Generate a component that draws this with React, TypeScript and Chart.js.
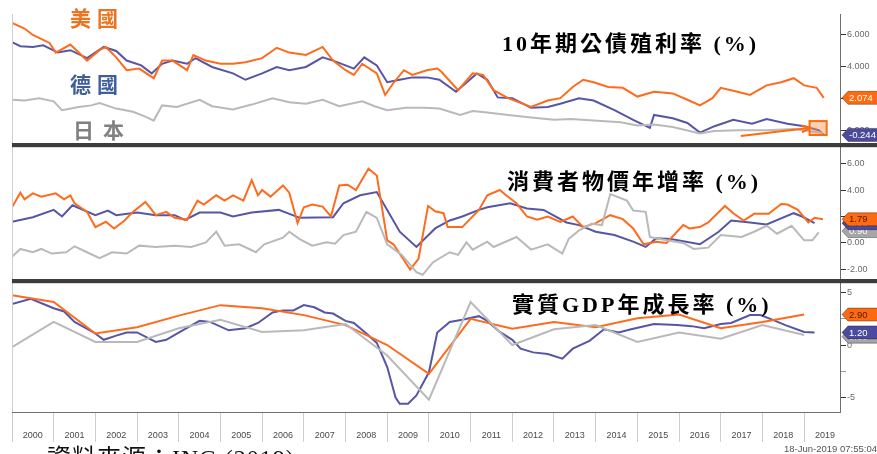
import React, { useEffect, useRef } from 'react';
import { Chart, registerables } from 'chart.js';

Chart.register(...registerables);

// ---------- tick labels ----------
const yearLabels = ['2000','2001','2002','2003','2004','2005','2006','2007','2008','2009','2010','2011','2012','2013','2014','2015','2016','2017','2018','2019'];

// ---------- Panel 1: 10-year government bond yield (%) ----------
const usYieldX = [2000.0,2000.3,2000.5,2000.9,2001.05,2001.4,2001.8,2002.1,2002.25,2002.5,2002.75,2003.05,2003.4,2003.6,2003.85,2004.2,2004.35,2004.65,2005.0,2005.3,2005.6,2006.0,2006.35,2006.65,2007.05,2007.45,2007.7,2008.0,2008.2,2008.4,2008.75,2008.95,2009.15,2009.4,2009.6,2009.95,2010.2,2010.3,2010.7,2011.05,2011.3,2011.55,2011.9,2012.45,2012.85,2013.15,2013.45,2013.7,2013.95,2014.3,2014.65,2015.0,2015.4,2015.85,2016.2,2016.5,2016.8,2017.0,2017.4,2017.7,2018.1,2018.45,2018.75,2019.0,2019.3,2019.47];
const usYieldY = [6.75,6.4,6.0,5.5,4.9,5.4,4.4,5.05,5.25,4.6,3.8,3.9,3.3,4.4,4.4,3.8,4.75,4.4,4.2,4.2,4.3,4.55,5.2,4.9,4.75,5.25,4.4,3.8,3.5,4.2,3.6,2.25,3.0,3.8,3.5,3.8,3.9,3.7,2.55,3.6,3.5,2.55,2.05,1.5,1.9,2.05,2.75,3.2,3.05,2.75,2.7,2.15,2.45,2.35,1.95,1.6,2.05,2.7,2.45,2.25,2.85,3.05,3.3,2.85,2.7,2.07];

const deYieldX = [2000.0,2000.2,2000.5,2000.75,2001.1,2001.4,2001.8,2002.2,2002.5,2002.75,2003.1,2003.35,2003.6,2003.85,2004.2,2004.4,2004.8,2005.3,2005.6,2006.0,2006.35,2006.65,2007.05,2007.45,2007.7,2008.0,2008.2,2008.45,2008.75,2009.0,2009.3,2009.6,2009.95,2010.25,2010.65,2011.15,2011.4,2011.65,2012.0,2012.45,2012.85,2013.15,2013.6,2013.95,2014.45,2014.9,2015.3,2015.4,2015.85,2016.2,2016.5,2016.85,2017.3,2017.75,2018.1,2018.6,2019.0,2019.35,2019.47];
const deYieldY = [5.55,5.3,5.25,5.35,4.9,5.05,4.55,5.25,5.0,4.4,4.1,3.6,4.2,4.4,4.2,4.55,4.0,3.6,3.2,3.6,4.0,3.8,4.0,4.6,4.4,4.1,3.9,4.6,4.1,3.05,3.2,3.35,3.35,3.2,2.45,3.6,3.2,2.1,2.05,1.45,1.5,1.7,2.05,1.9,1.3,0.7,0.2,1.0,0.8,0.5,-0.1,0.3,0.7,0.45,0.75,0.45,0.3,0.05,-0.24];

const jpYieldX = [2000.0,2000.3,2000.65,2001.0,2001.2,2001.6,2001.9,2002.1,2002.5,2002.9,2003.2,2003.4,2003.6,2003.95,2004.5,2004.8,2005.3,2005.75,2006.25,2006.65,2007.05,2007.45,2007.85,2008.4,2008.7,2009.0,2009.45,2009.9,2010.25,2010.75,2011.05,2011.4,2011.9,2012.45,2013.0,2013.4,2013.95,2014.6,2015.0,2015.4,2015.85,2016.5,2016.85,2017.4,2018.1,2018.75,2019.15,2019.45];
const jpYieldY = [1.95,1.9,2.05,1.85,1.3,1.5,1.6,1.75,1.4,1.2,0.9,0.65,1.6,1.5,1.95,1.55,1.35,1.65,2.05,1.8,1.7,1.95,1.55,1.85,1.55,1.3,1.45,1.45,1.4,1.0,1.25,1.15,1.0,0.85,0.7,0.75,0.65,0.55,0.35,0.4,0.25,-0.15,0.0,0.05,0.05,0.12,-0.02,-0.12];

// ---------- Panel 2: CPI YoY (%) ----------
const usCpiX = [2000.0,2000.2,2000.3,2000.5,2000.7,2001.05,2001.25,2001.4,2001.5,2001.8,2002.0,2002.25,2002.45,2002.7,2002.9,2003.2,2003.45,2003.7,2003.9,2004.2,2004.45,2004.6,2004.9,2005.1,2005.3,2005.55,2005.75,2005.9,2006.0,2006.2,2006.5,2006.65,2006.85,2007.0,2007.2,2007.45,2007.65,2007.85,2008.05,2008.25,2008.55,2008.75,2009.0,2009.15,2009.55,2009.75,2009.98,2010.15,2010.35,2010.45,2010.8,2011.2,2011.4,2011.7,2011.85,2012.1,2012.35,2012.6,2012.85,2013.15,2013.45,2013.7,2014.0,2014.35,2014.65,2014.9,2015.15,2015.45,2015.7,2016.1,2016.25,2016.5,2016.7,2017.1,2017.3,2017.55,2017.8,2018.15,2018.45,2018.6,2018.85,2019.1,2019.25,2019.45];
const usCpiY = [2.7,3.8,3.3,3.75,3.5,3.75,3.3,3.6,3.0,2.35,1.2,1.6,1.1,1.7,2.35,3.1,2.1,2.35,1.9,1.75,3.2,2.9,3.6,3.2,3.6,3.2,4.75,3.6,4.0,3.5,4.35,3.8,1.5,2.7,2.9,2.75,2.0,4.35,4.4,4.0,5.6,5.1,0.2,-0.1,-2.0,-1.2,2.8,2.4,2.25,1.2,1.2,2.5,3.6,4.0,3.6,3.0,2.0,1.75,2.0,1.6,2.0,1.2,1.5,2.1,1.8,1.1,-0.1,0.1,0.0,1.35,1.1,1.2,1.55,2.8,2.25,1.7,2.2,2.2,2.95,2.9,2.5,1.55,1.9,1.79];

const deCpiX = [2000.0,2000.5,2001.0,2001.2,2001.45,2002.0,2002.3,2002.5,2003.0,2003.45,2003.9,2004.15,2004.5,2005.0,2005.3,2005.75,2006.4,2006.9,2007.7,2007.95,2008.35,2008.75,2009.1,2009.3,2009.7,2010.15,2010.5,2010.8,2011.2,2011.4,2011.95,2012.35,2012.75,2013.3,2013.6,2014.0,2014.45,2014.9,2015.2,2015.45,2015.8,2016.5,2016.95,2017.25,2017.7,2018.1,2018.75,2018.95,2019.25];
const deCpiY = [1.6,1.95,2.5,2.0,2.85,2.1,2.45,2.1,2.3,2.1,2.1,1.75,2.3,2.3,2.0,2.3,2.5,1.9,1.95,3.0,3.6,3.85,1.95,0.85,-0.3,1.1,1.7,2.0,2.5,2.7,3.0,2.6,2.5,1.55,1.35,0.85,0.6,0.1,-0.3,0.35,0.3,-0.1,0.85,1.7,1.55,1.4,2.25,2.0,1.5];

const jpCpiX = [2000.0,2000.2,2000.5,2000.7,2000.95,2001.3,2001.5,2001.8,2002.1,2002.4,2002.75,2003.05,2003.45,2003.9,2004.3,2004.65,2004.9,2005.1,2005.45,2005.85,2006.05,2006.5,2006.65,2006.9,2007.2,2007.55,2007.75,2007.95,2008.25,2008.5,2008.75,2009.0,2009.35,2009.7,2009.85,2010.1,2010.5,2010.7,2010.9,2011.05,2011.4,2011.55,2012.1,2012.45,2012.85,2013.2,2013.35,2013.6,2013.9,2014.15,2014.35,2014.75,2014.9,2015.2,2015.3,2015.7,2016.1,2016.35,2016.7,2017.0,2017.5,2017.8,2018.1,2018.35,2018.7,2019.0,2019.2,2019.35];
const jpCpiY = [-1.05,-0.45,-0.7,-0.45,-0.8,-0.7,-0.25,-0.7,-1.15,-0.7,-0.8,-0.2,-0.3,-0.2,-0.3,0.05,0.85,-0.2,-0.1,-0.7,-0.1,0.4,0.85,0.3,-0.2,0.05,-0.05,0.6,0.85,2.35,1.9,-0.1,-0.9,-2.2,-2.4,-1.45,-0.7,-0.9,0.05,-0.5,0.1,-0.3,0.45,-0.5,-0.1,-0.8,0.3,0.95,1.45,1.35,3.7,3.2,2.45,2.35,0.45,0.2,0.0,-0.45,-0.35,0.6,0.45,0.85,1.3,0.7,1.3,0.2,0.2,0.8];

// ---------- Panel 3: real GDP YoY (%) ----------
const annualX = [2000,2001,2002,2003,2004,2005,2006,2007,2008,2009,2010,2011,2012,2013,2014,2015,2016,2017,2018,2019];
const usGdpY = [4.75,4.1,1.1,1.7,2.8,3.8,3.5,2.85,1.9,0.0,-2.75,2.5,1.55,2.2,1.7,2.55,2.9,1.6,2.2,2.9];
const jpGdpY = [-0.2,2.2,0.3,0.3,1.6,2.4,1.25,1.4,2.0,-1.0,-5.2,4.1,0.0,1.5,1.9,0.3,1.2,0.6,1.9,0.95];

const deGdpX = [2000.0,2000.45,2001.0,2001.25,2001.5,2002.0,2002.2,2002.5,2002.75,2003.0,2003.45,2003.7,2004.05,2004.5,2004.75,2005.2,2005.6,2005.9,2006.25,2006.5,2006.75,2007.0,2007.25,2007.5,2007.7,2008.0,2008.2,2008.5,2008.75,2009.0,2009.2,2009.3,2009.5,2009.7,2010.0,2010.2,2010.5,2010.8,2011.2,2011.4,2011.7,2012.0,2012.2,2012.5,2012.85,2013.2,2013.45,2013.85,2014.2,2014.55,2014.85,2015.4,2015.95,2016.3,2016.6,2017.0,2017.25,2017.7,2017.95,2018.25,2018.55,2019.0,2019.25];
const deGdpY = [3.9,4.4,3.5,3.2,2.2,1.1,0.5,0.9,1.2,1.2,0.3,0.5,1.3,2.3,2.2,1.4,1.6,2.1,3.1,3.3,3.3,3.8,3.6,3.1,3.0,2.3,2.1,1.1,0.2,-2.1,-5.0,-5.6,-5.6,-4.8,-2.6,1.2,2.2,2.4,2.75,2.3,1.25,0.5,-0.35,-0.7,-0.85,-1.3,-0.35,0.4,1.5,1.2,1.5,2.0,1.9,1.8,1.6,2.0,2.1,2.85,2.85,2.4,1.9,1.25,1.2];

// ---------- last-value tags (drawn order: back to front) ----------
const yieldTagValues = [-0.244, 2.074];
const cpiTagValues = [0.90, 1.50, 1.79];
const gdpTagValues = [0.80, 1.20, 2.90];

// ---------- annotation (panel 1 arrow + box) ----------
const arrowFrom = [2017.48, -0.31];
const arrowTo = [2019.11, 0.19];
const boxXRange = [2019.13, 2019.54];
const boxYRange = [-0.25, 0.62];

const ORANGE = '#FF6B1C';
const BLUE = '#5755A6';
const GRAY = '#B9B9B9';
const TAG_ORANGE = '#FF6A10';
const TAG_BLUE = '#4C4A9E';
const TAG_GRAY = '#A6A6A6';

const pts = (xs: number[], ys: number[]) => xs.map((x, i) => ({ x, y: ys[i] }));

function drawTag(ctx: CanvasRenderingContext2D, x0: number, y: number, fill: string, text: string, textColor: string) {
  const h = 13;
  const w = 60;
  ctx.save();
  ctx.beginPath();
  ctx.moveTo(x0, y);
  ctx.lineTo(x0 + 6, y - h / 2);
  ctx.lineTo(x0 + w, y - h / 2);
  ctx.lineTo(x0 + w, y + h / 2);
  ctx.lineTo(x0 + 6, y + h / 2);
  ctx.closePath();
  ctx.fillStyle = fill;
  ctx.fill();
  ctx.lineWidth = 1;
  ctx.strokeStyle = 'rgba(0,0,0,0.35)';
  ctx.stroke();
  ctx.fillStyle = textColor;
  ctx.font = '9.5px "Liberation Sans", Arial, sans-serif';
  ctx.textBaseline = 'middle';
  ctx.textAlign = 'left';
  ctx.fillText(text, x0 + 7, y + 0.5);
  ctx.restore();
}

const overlayPlugin = {
  id: 'overlayPlugin',
  afterDraw(chart: any) {
    const ctx: CanvasRenderingContext2D = chart.ctx;
    const { left, right, top, bottom } = chart.chartArea;
    const sx = chart.scales.x;
    const sY = chart.scales.yld;
    const sC = chart.scales.cpi;
    const sG = chart.scales.gdp;
    const W = chart.width;

    ctx.save();
    // left frame line
    ctx.strokeStyle = '#cfcfcf';
    ctx.lineWidth = 1;
    ctx.beginPath();
    ctx.moveTo(left + 0.5, top);
    ctx.lineTo(left + 0.5, bottom);
    ctx.stroke();

    // panel separators
    for (const t of [sY.bottom, sC.bottom]) {
      ctx.fillStyle = '#3c3c3c';
      ctx.fillRect(left, t - 2, W - left, 4);
      ctx.fillStyle = 'rgba(0,0,0,0.15)';
      ctx.fillRect(left, t + 2, W - left, 1);
    }

    // arrow + box annotation in panel 1
    const ax0 = sx.getPixelForValue(arrowFrom[0]);
    const ay0 = sY.getPixelForValue(arrowFrom[1]);
    const ax1 = sx.getPixelForValue(arrowTo[0]);
    const ay1 = sY.getPixelForValue(arrowTo[1]);
    ctx.strokeStyle = '#FF6A10';
    ctx.fillStyle = '#FF6A10';
    ctx.lineWidth = 2;
    ctx.beginPath();
    ctx.moveTo(ax0, ay0);
    ctx.lineTo(ax1, ay1);
    ctx.stroke();
    const ang = Math.atan2(ay1 - ay0, ax1 - ax0);
    ctx.beginPath();
    ctx.moveTo(ax1 + 2, ay1);
    ctx.lineTo(ax1 - 8 * Math.cos(ang - 0.45), ay1 - 8 * Math.sin(ang - 0.45));
    ctx.moveTo(ax1 + 2, ay1);
    ctx.lineTo(ax1 - 8 * Math.cos(ang + 0.45), ay1 - 8 * Math.sin(ang + 0.45));
    ctx.stroke();
    const bx0 = sx.getPixelForValue(boxXRange[0]);
    const bx1 = sx.getPixelForValue(boxXRange[1]);
    const by0 = sY.getPixelForValue(boxYRange[1]);
    const by1 = sY.getPixelForValue(boxYRange[0]);
    ctx.fillStyle = 'rgba(255,150,80,0.45)';
    ctx.fillRect(bx0, by0, bx1 - bx0, by1 - by0);
    ctx.strokeRect(bx0, by0, bx1 - bx0, by1 - by0);

    // value tags
    const tx = right + 2;
    const yCols = [TAG_BLUE, TAG_ORANGE];
    yieldTagValues.forEach((v, i) => drawTag(ctx, tx, sY.getPixelForValue(v), yCols[i], v.toFixed(3), '#ffffff'));
    const cCols = [TAG_GRAY, TAG_BLUE, TAG_ORANGE];
    cpiTagValues.forEach((v, i) => drawTag(ctx, tx, sC.getPixelForValue(v), cCols[i], v.toFixed(2), i === 2 ? '#4a1c00' : '#ffffff'));
    gdpTagValues.forEach((v, i) => drawTag(ctx, tx, sG.getPixelForValue(v), cCols[i], v.toFixed(2), i === 2 ? '#4a1c00' : '#ffffff'));
    ctx.restore();
  },
};

const tickFont = { size: 9, family: '"Liberation Sans", Arial, sans-serif' };

function yAxis(min: number, max: number, step: number, weight: number, labelEvery: number, digits: number) {
  return {
    type: 'linear',
    position: 'right',
    stack: 'panels',
    stackWeight: weight,
    min,
    max,
    border: { display: true, color: '#6e6e6e' },
    grid: {
      drawOnChartArea: false,
      drawTicks: true,
      tickLength: 6,
      color: (c: any) => (c.tick && Math.abs(c.tick.value % labelEvery) < 1e-9 ? '#333' : '#9a9a9a'),
    },
    ticks: {
      stepSize: step,
      includeBounds: false,
      padding: 1,
      color: '#6a6a6a',
      font: tickFont,
      callback: (v: number) => (Math.abs(v % labelEvery) < 1e-9 ? v.toFixed(digits) : ''),
    },
    afterFit: (scale: any) => {
      scale.width = 37;
    },
  };
}

export default function App() {
  const canvasRef = useRef<HTMLCanvasElement | null>(null);

  useEffect(() => {
    document.body.style.margin = '0';
    const canvas = canvasRef.current;
    if (!canvas) return;
    const line = (label: string, xs: number[], ys: number[], color: string, axis: string) => ({
      label,
      data: pts(xs, ys),
      borderColor: color,
      backgroundColor: color,
      borderWidth: 2,
      pointRadius: 0,
      tension: 0,
      yAxisID: axis,
      xAxisID: 'x',
    });
    const chart = new Chart(canvas, {
      type: 'line',
      data: {
        datasets: [
          line('日本 10Y', jpYieldX, jpYieldY, GRAY, 'yld'),
          line('美國 10Y', usYieldX, usYieldY, ORANGE, 'yld'),
          line('德國 10Y', deYieldX, deYieldY, BLUE, 'yld'),
          line('日本 CPI', jpCpiX, jpCpiY, GRAY, 'cpi'),
          line('美國 CPI', usCpiX, usCpiY, ORANGE, 'cpi'),
          line('德國 CPI', deCpiX, deCpiY, BLUE, 'cpi'),
          line('日本 GDP', annualX, jpGdpY, GRAY, 'gdp'),
          line('美國 GDP', annualX, usGdpY, ORANGE, 'gdp'),
          line('德國 GDP', deGdpX, deGdpY, BLUE, 'gdp'),
        ],
      },
      options: {
        animation: false,
        responsive: true,
        maintainAspectRatio: false,
        devicePixelRatio: 1,
        layout: { padding: { left: 12, top: 14, right: 0, bottom: 0 } },
        plugins: {
          legend: { display: false },
          tooltip: { enabled: false },
          title: { display: false },
        },
        scales: {
          x: {
            type: 'linear',
            position: 'bottom',
            min: 2000,
            max: 2019.86,
            border: { display: true, color: '#707070' },
            grid: { drawOnChartArea: false, drawTicks: true, tickLength: 30, color: '#cdcdcd' },
            ticks: {
              stepSize: 1,
              includeBounds: false,
              autoSkip: false,
              maxRotation: 0,
              labelOffset: 20.8,
              padding: -12,
              color: '#4a4a4a',
              font: tickFont,
              callback: (v: number) => yearLabels[Math.round(v) - 2000] ?? '',
            },
            afterFit: (scale: any) => {
              scale.height = 42;
            },
          },
          yld: yAxis(-0.875, 7.31, 1, 131, 2, 3),
          cpi: yAxis(-2.87, 7.4, 1, 136, 2, 2),
          gdp: yAxis(-6.38, 6.1, 2.5, 131, 5, 0),
        } as any,
      },
      plugins: [overlayPlugin],
    } as any);
    return () => chart.destroy();
  }, []);

  const serif = '"Liberation Serif", "Times New Roman", "Noto Sans CJK TC", serif';
  const title: React.CSSProperties = {
    position: 'absolute',
    fontFamily: serif,
    fontWeight: 700,
    fontSize: '22px',
    lineHeight: '22px',
    letterSpacing: '3px',
    color: '#000',
    whiteSpace: 'nowrap',
  };
  const country: React.CSSProperties = {
    position: 'absolute',
    fontFamily: '"Noto Sans CJK TC", serif',
    fontWeight: 700,
    fontSize: '21px',
    lineHeight: '22px',
    letterSpacing: '6px',
    whiteSpace: 'nowrap',
  };

  return (
    <div style={{ position: 'relative', width: 877, height: 454, overflow: 'hidden', background: '#fff' }}>
      <canvas ref={canvasRef} style={{ position: 'absolute', left: 0, top: 0 }} />
      <div style={{ ...country, left: 70, top: 6, color: '#EB7420' }}>美國</div>
      <div style={{ ...country, left: 70, top: 72, color: '#3E5E9C' }}>德國</div>
      <div style={{ ...country, left: 73, top: 118, color: '#808080', letterSpacing: '9px' }}>日本</div>
      <div style={{ ...title, left: 502, top: 33 }}>10年期公債殖利率 (%)</div>
      <div style={{ ...title, left: 507, top: 171 }}>消費者物價年增率 (%)</div>
      <div style={{ ...title, left: 512, top: 294 }}>實質GDP年成長率 (%)</div>
      <div
        style={{
          position: 'absolute',
          right: 0,
          top: 443,
          fontFamily: '"Liberation Sans", Arial, sans-serif',
          fontSize: '9.5px',
          color: '#555',
          whiteSpace: 'nowrap',
        }}
      >
        18-Jun-2019 07:55:04
      </div>
      <div
        style={{
          position: 'absolute',
          left: 47,
          top: 446,
          fontFamily: serif,
          fontSize: '24px',
          lineHeight: '24px',
          letterSpacing: '1px',
          color: '#111',
          whiteSpace: 'nowrap',
        }}
      >
        資料來源：ING (2019)
      </div>
    </div>
  );
}
